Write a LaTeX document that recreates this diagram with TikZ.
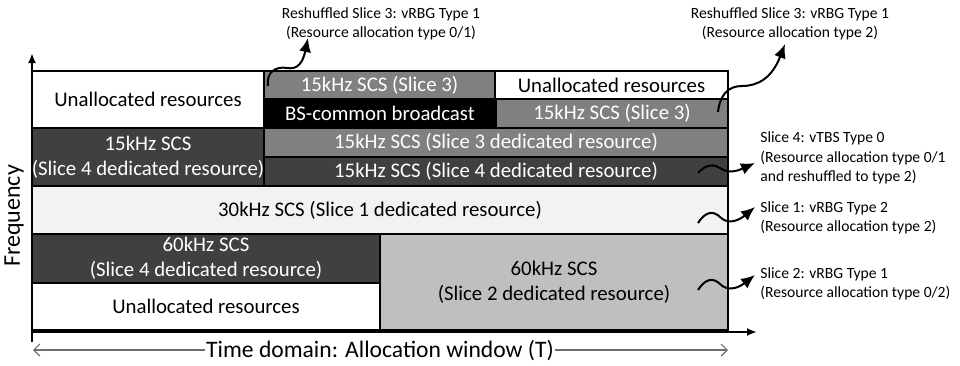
\documentclass[tikz,border=0pt]{standalone}
\usepackage{fontspec}
\setmainfont{Carlito}
\usetikzlibrary{arrows.meta}

\definecolor{slicegray}{RGB}{128,128,128}
\definecolor{slicedark}{RGB}{64,64,64}
\definecolor{slicelight}{RGB}{242,242,242}
\definecolor{slicemid}{RGB}{191,191,191}
\definecolor{timegray}{RGB}{110,110,110}

\tikzset{
  cell/.style={draw=black, line width=0.75pt, inner sep=0pt, outer sep=0pt, align=center, font=\fontsize{10.4}{12.6}\selectfont},
  unalloc/.style={fill=white, text=black},
  slicethree/.style={fill=slicegray, text=white},
  slicefour/.style={fill=slicedark, text=white},
  bcast/.style={fill=black, text=white},
  sliceone/.style={fill=slicelight, text=black},
  slicetwo/.style={fill=slicemid, text=black},
  note/.style={inner sep=0pt, font=\fontsize{7.8}{9.8}\selectfont},
  wave/.style={line width=1pt, -{Latex[length=7pt,width=6pt]}},
  axis/.style={line width=1.2pt, -{Latex[length=5pt,width=4pt]}},
  timeline/.style={draw=timegray, line width=0.6pt, -{Straight Barb[length=3pt,width=6pt]}},
}

\begin{document}
\begin{tikzpicture}[x=0.5pt, y=-0.5pt]
\useasboundingbox (0,0) rectangle (960,365);

% Resource grid
\foreach \n/\xa/\ya/\xb/\yb/\s/\t in {
    ua/32/71/264/128/unalloc/{Unallocated resources},
    sa/264/71/495/99/slicethree/{15kHz SCS (Slice 3)},
    ub/495/71/728/99/unalloc/{Unallocated resources},
    bc/264/99/496/128/bcast/{BS-common broadcast},
    sb/496/99/728/128/slicethree/{15kHz SCS (Slice 3)},
    fa/32/128/264/186/slicefour/{15kHz SCS\\(Slice 4 dedicated resource)},
    sc/264/128/728/157/slicethree/{15kHz SCS (Slice 3 dedicated resource)},
    fb/264/157/728/186/slicefour/{15kHz SCS (Slice 4 dedicated resource)},
    oa/32/186/728/234/sliceone/{30kHz SCS (Slice 1 dedicated resource)},
    fc/32/234/380/283/slicefour/{60kHz SCS\\(Slice 4 dedicated resource)},
    uc/32/283/380/330/unalloc/{Unallocated resources},
    ta/380/234/728/330/slicetwo/{60kHz SCS\\(Slice 2 dedicated resource)}}
    \node[cell, \s, minimum width={(\xb-\xa)*0.5pt}, minimum height={(\yb-\ya)*0.5pt}] (\n) at ({(\xa+\xb)/2},{(\ya+\yb)/2}) {\t};

% Axes
\coordinate (o) at (32,342);
\coordinate (ytop) at (32,53);
\coordinate (xo) at (32,332);
\coordinate (xend) at (757,332);
\draw[axis] (o) -- (ytop);
\draw[axis] (xo) -- (xend);
\node[rotate=90, font=\fontsize{12}{14}\selectfont] (freq) at (14,216) {Frequency};

% Allocation window
\coordinate (tl) at (33,350);
\coordinate (tr) at (728,350);
\node[font=\fontsize{11.8}{14}\selectfont, inner sep=0.5pt] (time) at (380,350) {Time domain: Allocation window (T)};
\draw[timeline] (time.west) -- (tl);
\draw[timeline] (time.east) -- (tr);

% Annotations
\node[note, align=center] (ra) at (381,24) {Reshuffled Slice 3: vRBG Type 1\\(Resource allocation type 0/1)};
\node[note, align=center] (rb) at (790,24) {Reshuffled Slice 3: vRBG Type 1\\(Resource allocation type 2)};
\node[note, align=left, anchor=west] (na) at (760,158) {Slice 4: vTBS Type 0\\(Resource allocation type 0/1\\and reshuffled to type 2)};
\node[note, align=left, anchor=west] (nb) at (760,218) {Slice 1: vRBG Type 2\\(Resource allocation type 2)};
\node[note, align=left, anchor=west] (nc) at (760,284) {Slice 2: vRBG Type 1\\(Resource allocation type 0/2)};

% Wavy pointers
\coordinate (pa) at (268,86);   \coordinate (qa) at (308,38);
\coordinate (pb) at (718,112);  \coordinate (qb) at (785,44);
\coordinate (pc) at (698,173);  \coordinate (qc) at (755,163);
\coordinate (pd) at (698,223);  \coordinate (qd) at (755,207);
\coordinate (pe) at (698,290);  \coordinate (qe) at (755,275);
\draw[wave] (pa) .. controls (266,72) and (276,66) .. (287,68) .. controls (298,70) and (303,62) .. (qa);
\draw[wave] (pb) .. controls (720,95) and (728,86) .. (742,86) .. controls (758,86) and (772,78) .. (qb);
\draw[wave] (pc) .. controls (706,164) and (714,164) .. (720,168) .. controls (727,173) and (735,172) .. (qc);
\draw[wave] (pd) .. controls (705,212) and (713,210) .. (720,217) .. controls (727,224) and (737,222) .. (qd);
\draw[wave] (pe) .. controls (705,279) and (713,277) .. (720,284) .. controls (727,291) and (737,289) .. (qe);
\end{tikzpicture}
\end{document}
